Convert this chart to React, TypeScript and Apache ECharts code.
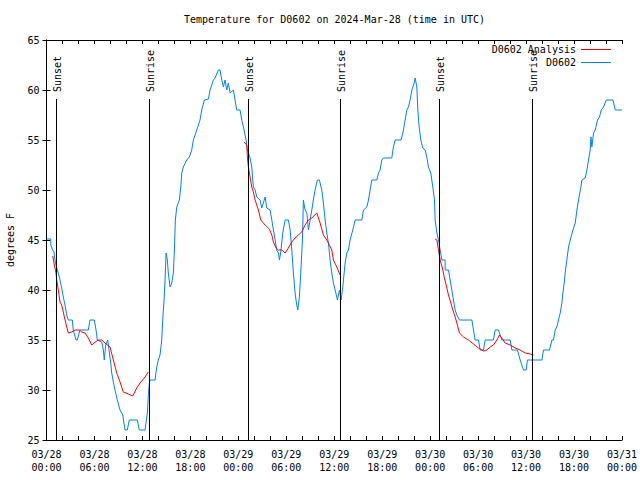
import React, { useEffect, useRef } from 'react';
import * as echarts from 'echarts';

// hours since 2024-03-28 00:00 UTC
const blueHours = [
  0.03, 0.53, 0.53, 0.78, 0.94, 1.06, 1.28, 1.48, 1.69, 1.9, 2.1, 2.32, 2.53, 2.73, 3.23, 3.35, 3.69, 3.85, 4.19, 5.23,
  5.44, 5.98, 6.2, 6.36, 6.91, 7.11, 7.23, 7.41, 7.66, 7.82, 8.04, 8.16, 8.36, 8.57, 8.86, 9.2, 9.54, 9.82, 10.11, 10.36,
  11.36, 11.61, 12.33, 12.62, 12.74, 12.87, 12.95, 13.58, 13.79, 13.99, 14.2, 14.42, 14.54, 14.71, 14.83, 14.96, 15.12, 15.24, 15.46, 15.67,
  15.87, 16.0, 16.12, 16.3, 16.62, 16.8, 16.92, 17.12, 17.55, 17.87, 18.17, 18.37, 18.8, 19.21, 19.42, 19.75, 20.25, 20.46, 20.88, 21.09,
  21.5, 21.71, 21.93, 22.13, 22.34, 22.55, 22.75, 22.97, 23.38, 23.59, 23.8, 24.22, 24.43, 24.72, 24.97, 25.13, 25.26, 25.47, 25.68, 25.88,
  26.1, 26.31, 26.72, 26.93, 27.13, 27.35, 27.56, 27.97, 28.19, 28.39, 28.6, 28.81, 29.01, 29.14, 29.31, 29.56, 29.85, 30.26, 30.48, 30.69,
  30.89, 31.1, 31.31, 31.44, 31.64, 31.81, 32.02, 32.14, 32.35, 32.57, 32.77, 32.98, 33.19, 33.39, 33.6, 33.89, 34.14, 34.44, 34.64, 34.86,
  35.07, 35.27, 35.48, 35.69, 35.9, 36.11, 36.4, 36.65, 36.86, 37.07, 37.36, 37.57, 37.77, 37.98, 38.32, 38.61, 39.45, 39.65, 40.08, 40.28,
  40.49, 40.7, 41.33, 41.53, 41.74, 41.95, 42.15, 43.2, 43.4, 43.62, 44.37, 44.66, 44.87, 45.08, 45.28, 45.49, 45.71, 46.0, 46.12, 46.33,
  46.46, 46.62, 46.83, 47.08, 47.37, 47.58, 47.78, 48.08, 48.33, 48.54, 48.62, 48.84, 49.04, 49.25, 49.46, 49.87, 49.87, 50.29, 50.5, 50.71,
  50.91, 51.13, 51.34, 51.66, 53.22, 53.42, 53.63, 54.04, 54.26, 54.67, 54.88, 55.92, 56.13, 56.55, 56.97, 58.01, 58.22, 58.92, 59.26, 59.67,
  60.01, 60.17, 61.98, 62.18, 62.93, 63.23, 63.43, 63.64, 63.85, 64.05, 64.27, 64.48, 64.6, 64.77, 64.89, 65.1, 65.31, 65.52, 65.86, 66.15,
  66.36, 66.56, 66.86, 66.98, 67.4, 67.61, 67.81, 68.02, 68.11, 68.23, 68.44, 68.65, 68.94, 69.19, 69.4, 69.69, 70.03, 70.87, 71.07, 71.15,
  71.99,
];
const blueTemps = [
  45.1, 45.1, 44.5, 44.0, 43.8, 43.0, 42.2, 41.7, 41.0, 40.2, 39.3, 38.5, 37.5, 37.0, 37.0, 36.0, 35.0, 35.0, 36.0, 36.0,
  37.0, 37.0, 36.0, 35.0, 34.8, 34.0, 33.0, 34.5, 35.0, 34.0, 32.7, 31.7, 30.8, 30.0, 29.0, 28.0, 27.5, 26.0, 26.0, 27.0,
  27.0, 26.0, 26.0, 27.7, 29.5, 30.7, 31.0, 31.0, 32.3, 33.0, 33.5, 35.0, 37.0, 39.0, 41.0, 43.7, 43.0, 41.7, 40.3, 40.7,
  41.7, 44.0, 47.0, 48.3, 49.0, 50.3, 51.7, 52.3, 53.0, 53.3, 54.0, 55.0, 56.0, 57.0, 58.0, 59.0, 59.1, 60.0, 61.0, 61.2,
  62.0, 62.0, 61.0, 60.3, 61.0, 60.0, 60.7, 59.7, 60.0, 59.0, 58.0, 58.0, 57.0, 56.0, 55.0, 54.0, 53.7, 53.2, 52.3, 50.3,
  50.0, 49.3, 49.0, 48.2, 48.7, 49.3, 48.2, 48.0, 47.0, 46.0, 45.0, 44.0, 43.7, 43.0, 43.8, 45.7, 47.0, 47.0, 46.0, 44.0,
  41.7, 39.7, 38.5, 38.0, 39.3, 41.7, 45.0, 49.0, 48.0, 47.7, 46.0, 47.0, 48.0, 49.0, 50.0, 51.0, 51.0, 50.0, 48.7, 47.0,
  45.7, 44.7, 43.0, 41.7, 40.7, 40.0, 39.0, 40.0, 39.0, 40.3, 42.7, 43.7, 44.0, 45.0, 46.0, 47.0, 47.0, 48.0, 48.3, 49.0,
  50.0, 51.0, 51.0, 51.7, 52.0, 53.0, 53.2, 53.2, 54.3, 55.0, 55.0, 56.0, 57.0, 58.0, 58.3, 59.0, 60.0, 60.7, 61.2, 60.3,
  58.0, 56.3, 55.0, 54.2, 54.0, 53.3, 52.3, 51.7, 50.3, 49.0, 47.0, 45.7, 45.0, 44.0, 43.0, 43.0, 42.0, 42.0, 41.0, 40.0,
  39.0, 38.0, 37.5, 37.0, 37.0, 36.0, 35.0, 35.0, 34.0, 34.0, 35.0, 35.0, 36.0, 36.0, 35.0, 35.0, 34.0, 34.0, 33.0, 32.0,
  32.0, 33.0, 33.0, 34.0, 34.0, 35.0, 35.0, 36.0, 36.3, 37.0, 37.7, 38.7, 39.7, 40.7, 41.7, 43.0, 44.3, 45.0, 46.0, 46.7,
  48.0, 49.0, 50.3, 51.0, 51.2, 52.0, 53.0, 54.0, 55.3, 54.3, 55.7, 56.0, 57.0, 57.3, 58.0, 58.3, 59.0, 59.0, 58.3, 58.0,
  58.0,
];

// analysis series: null marks a gap between nightly segments
const analysisHours = [
  0.78, 1.03, 1.19, 1.28, 1.48, 1.69, 1.9, 2.1, 2.32, 2.53, 2.73, 3.15, 3.57, 4.11, 4.41, 4.82, 5.23, 5.66, 5.94, 6.48,
  6.91, 7.32, 7.95, 8.36, 8.79, 9.2, 9.61, 10.24, 10.79, 11.29, 11.7, 12.33, 12.74, 13.0,
  24.72, 25.06, 25.13, 25.26, 25.47, 25.68, 25.88, 26.1, 26.51, 26.81, 27.35, 27.88, 28.19, 28.39, 28.72, 29.01, 29.44, 29.85, 30.26, 30.69,
  31.1, 31.51, 31.94, 32.35, 32.77, 33.19, 33.82, 34.02, 34.23, 34.64, 35.07, 35.39, 35.69, 35.9, 36.32, 36.73, 37.0,
  48.62, 48.84, 49.04, 49.25, 49.59, 49.75, 50.0, 50.29, 50.59, 50.84, 51.13, 51.34, 51.66, 52.17, 52.79, 53.42, 54.04, 54.67, 55.09, 55.51,
  55.92, 56.35, 56.67, 56.97, 57.38, 58.01, 58.64, 59.26, 59.89, 60.51, 60.93,
];
const analysisTemps: (number | null)[] = [
  43.4, 42.3, 41.7, 41.0, 40.0, 38.8, 38.5, 37.8, 37.0, 36.3, 35.7, 35.8, 36.0, 36.0, 35.8, 35.7, 35.2, 34.5, 34.7, 35.0,
  35.0, 34.7, 34.3, 33.0, 31.7, 30.8, 29.8, 29.6, 29.4, 30.2, 30.7, 31.3, 31.8, null,
  54.8, 54.5, 53.3, 52.3, 51.3, 50.3, 49.8, 49.0, 48.0, 47.0, 46.5, 46.1, 45.5, 44.8, 44.2, 44.0, 44.0, 43.7, 44.2, 44.8,
  45.2, 45.5, 45.8, 46.5, 47.0, 47.2, 47.7, 47.2, 46.7, 45.5, 45.0, 44.5, 44.0, 43.0, 42.3, 41.5, null,
  45.1, 45.0, 44.0, 43.0, 42.0, 41.3, 40.5, 39.5, 38.7, 38.0, 37.3, 36.7, 35.7, 35.3, 35.0, 34.6, 34.2, 33.9, 34.0, 34.3,
  34.5, 35.0, 35.5, 35.2, 34.7, 34.5, 34.2, 34.0, 33.7, 33.6, 33.5,
];

const sunHours = [1.19, 12.87, 25.24, 36.8, 49.15, 60.8];
const sunLabels = ['Sunset', 'Sunrise', 'Sunset', 'Sunrise', 'Sunset', 'Sunrise'];

const yTicks = [25, 30, 35, 40, 45, 50, 55, 60, 65];
const sunLineTop = 59.1;

const FONT = "'DejaVu Sans Mono', monospace";

function xLabel(v: number): string {
  const day = 28 + Math.floor(v / 24);
  const hr = Math.round(v % 24);
  return `03/${day}\n${String(hr).padStart(2, '0')}:00`;
}

export default function App() {
  const ref = useRef<HTMLDivElement>(null);
  useEffect(() => {
    document.body.style.margin = '0';
    const chart = echarts.init(ref.current!, null, { renderer: 'svg' });
    const axisLine = { show: true, lineStyle: { color: '#000', width: 1 } };
    const tick = { show: true, inside: true, length: 4, lineStyle: { color: '#000' } };
    const minor = { show: true, splitNumber: 3, length: 4, lineStyle: { color: '#000' } };
    const xBase = { type: 'value', min: 0, max: 72, interval: 6, splitLine: { show: false }, axisLine, axisTick: tick, minorTick: minor, minorSplitLine: { show: false } };
    const yBase = { type: 'value', min: yTicks[0], max: yTicks[yTicks.length - 1], interval: 5, splitLine: { show: false }, axisLine, axisTick: tick };
    chart.setOption({
      animation: false,
      backgroundColor: '#fff',
      title: {
        text: 'Temperature for D0602 on 2024-Mar-28 (time in UTC)',
        left: 179,
        top: 9,
        textStyle: { fontSize: 10, fontWeight: 'normal', fontFamily: FONT, color: '#000' },
      },
      legend: {
        orient: 'vertical',
        align: 'right',
        right: 24,
        top: 38,
        icon: 'rect',
        itemWidth: 30,
        itemHeight: 1,
        itemGap: 0,
        textStyle: { fontSize: 10, fontFamily: FONT, color: '#000', lineHeight: 13 },
        data: ['D0602 Analysis', 'D0602'],
      },
      grid: { left: 46.5, right: 18, top: 40, bottom: 40, show: false, containLabel: false, outerBoundsMode: 'none' },
      xAxis: [
        {
          ...xBase,
          position: 'bottom',
          axisLabel: { formatter: xLabel, fontSize: 10, fontFamily: FONT, color: '#000', lineHeight: 13, margin: 8, showMaxLabel: true, showMinLabel: true },
        },
        { ...xBase, position: 'top', axisLabel: { show: false } },
      ],
      yAxis: [
        {
          ...yBase,
          position: 'left',
          name: 'degrees F',
          nameLocation: 'middle',
          nameRotate: 90,
          nameGap: 31,
          nameTextStyle: { fontSize: 10, fontFamily: FONT, color: '#000' },
          axisLabel: { fontSize: 10, fontFamily: FONT, color: '#000', margin: 7 },
        },
        { ...yBase, position: 'right', axisLabel: { show: false } },
      ],
      series: [
        {
          name: 'D0602 Analysis',
          type: 'line',
          symbol: 'none',
          connectNulls: false,
          lineStyle: { color: '#ff0000', width: 1 },
          itemStyle: { color: '#ff0000' },
          data: analysisHours.map((h, i) => [h, analysisTemps[i]]),
          z: 3,
        },
        {
          name: 'D0602',
          type: 'line',
          symbol: 'none',
          lineStyle: { color: '#0080ff', width: 1 },
          itemStyle: { color: '#0080ff' },
          data: blueHours.map((h, i) => [h, blueTemps[i]]),
          z: 2,
          markLine: {
            silent: true,
            symbol: ['none', 'none'],
            label: { show: false },
            lineStyle: { color: '#000', type: 'solid', width: 1 },
            data: sunHours.map((h) => [{ coord: [h, yTicks[0]] }, { coord: [h, sunLineTop] }]),
          },
        },
      ],
    });
    const texts = sunHours.map((h, i) => {
      const p = chart.convertToPixel({ gridIndex: 0 }, [h, sunLineTop]) as number[];
      return {
        type: 'text',
        x: p[0] + 1,
        y: p[1] - 7,
        rotation: Math.PI / 2,
        style: { text: sunLabels[i], fontSize: 10, fontFamily: FONT, fill: '#000', textAlign: 'left', textVerticalAlign: 'middle' },
      };
    });
    chart.setOption({ graphic: texts });
    return () => chart.dispose();
  }, []);
  return <div ref={ref} style={{ width: 640, height: 480 }} />;
}
